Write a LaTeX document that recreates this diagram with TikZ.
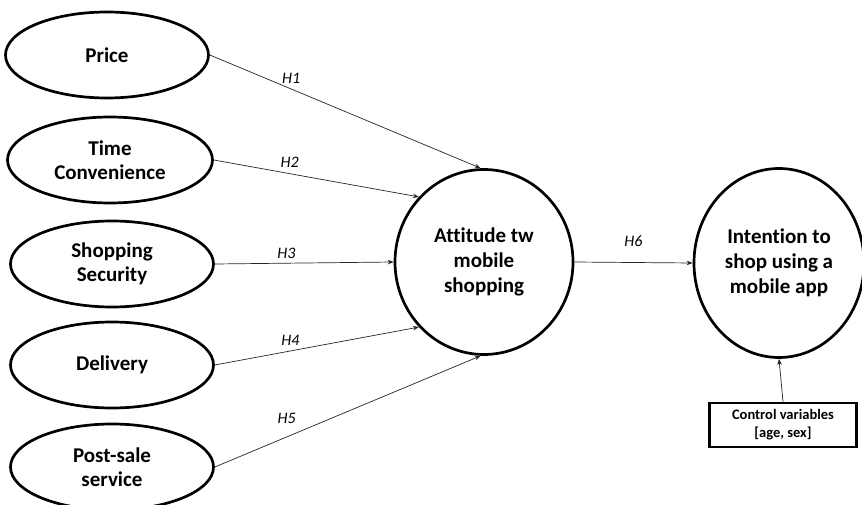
\documentclass[tikz,border=0pt]{standalone}
\usepackage{fontspec}
\setmainfont{Carlito}[Ligatures=NoCommon]
\usetikzlibrary{shapes.geometric,arrows.meta}
\tikzset{
  factor/.style={ellipse, draw, line width=2.7pt, inner sep=0pt, minimum width=203pt, minimum height=86pt, align=center, font=\bfseries\fontsize{21}{24}\selectfont},
  bigcirc/.style={ellipse, draw, line width=2.7pt, inner sep=0pt, align=center, font=\bfseries\fontsize{21}{25}\selectfont},
  ctrlbox/.style={rectangle, draw, line width=2.5pt, inner sep=0pt, minimum width=147pt, minimum height=44pt, align=center, font=\bfseries\fontsize{14.5}{18}\selectfont},
  link/.style={draw=black!85, line width=0.7pt, -{Stealth[length=6pt,width=4.5pt]}},
  hlab/.style={font=\itshape\fontsize{16}{18}\selectfont}
}
\begin{document}
\begin{tikzpicture}[x=1pt,y=-1pt]
\clip (0,0) rectangle (862,505);
\fill[white] (0,0) rectangle (862,505);
\node[factor] (price) at (107,55) {Price};
\node[factor, minimum width=205pt] (time) at (110,160) {Time\\Convenience};
\node[factor] (sec) at (112,264) {Shopping\\Security};
\node[factor] (deliv) at (112,365) {Delivery};
\node[factor] (post) at (112,467) {Post-sale\\service};
\node[bigcirc, minimum width=178pt, minimum height=185pt] (att) at (484,262) {Attitude tw\\mobile\\shopping};
\node[bigcirc, minimum width=170pt, minimum height=189pt] (int) at (779,263) {Intention to\\shop using a\\mobile app};
\node[ctrlbox] (ctrl) at (783,425) {Control variables\\{}[age, sex]};
\draw[link] (price.east) -- (att.92) node[hlab, pos=0.3, above=2pt] {H1};
\draw[link] (time.east) -- (att.135) node[hlab, pos=0.37, above=2pt] {H2};
\draw[link] (sec.east) -- (att.west) node[hlab, pos=0.4, above=1pt] {H3};
\draw[link] (deliv.east) -- (att.225) node[hlab, pos=0.37, above=2pt] {H4};
\draw[link] (post.east) -- (att.268) node[hlab, pos=0.27, above=10pt] {H5};
\draw[link] (att.east) -- (int.west) node[hlab, midway, above=12pt] {H6};
\draw[link] (ctrl.north) -- (int.south);
\end{tikzpicture}
\end{document}
